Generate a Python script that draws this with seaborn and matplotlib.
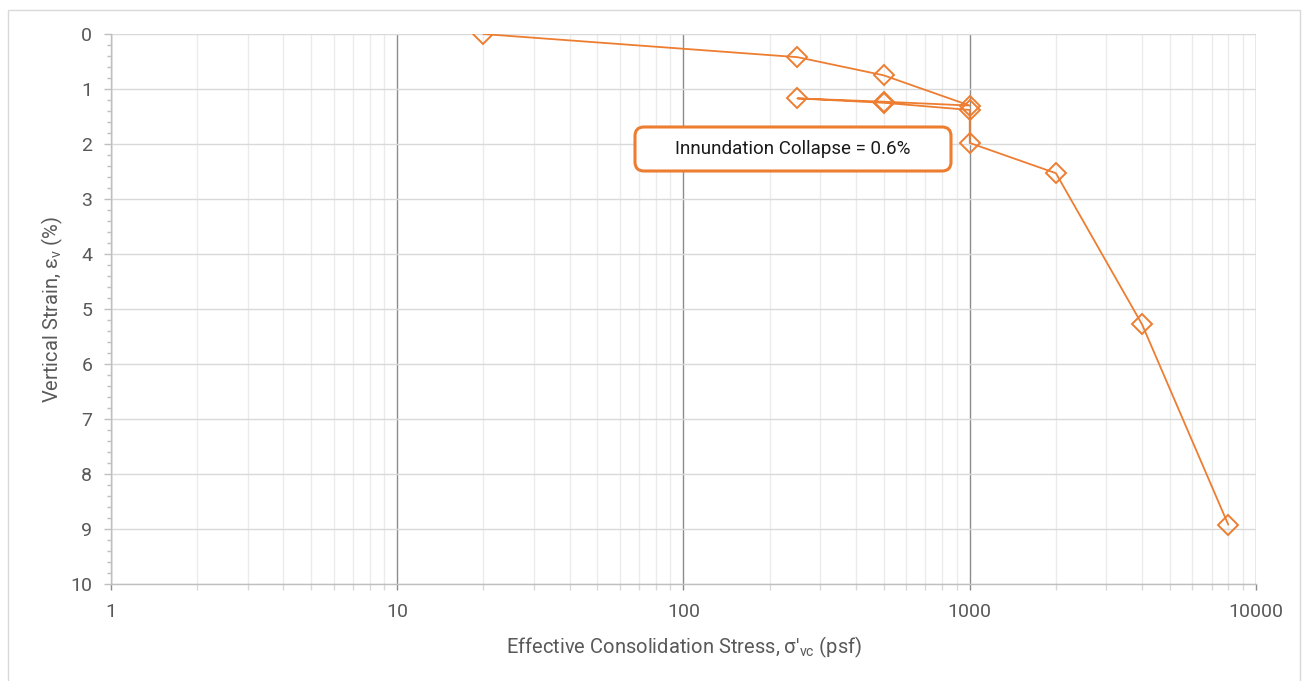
import numpy as np
import pandas as pd
import matplotlib
matplotlib.use("Agg")
import matplotlib.pyplot as plt
from matplotlib.patches import FancyBboxPatch, Rectangle
from matplotlib.ticker import (FixedLocator, LogLocator, MultipleLocator,
                               NullFormatter, FuncFormatter)
import seaborn as sns

# Consolidation test: loading, unload/reload loop, inundation at 1000 psf, final loading
stress_psf = [20, 250, 500, 1000, 500, 250, 500, 1000, 1000, 2000, 4000, 8000]
vertical_strain = [0.0, 0.42, 0.75, 1.30, 1.23, 1.17, 1.25, 1.38, 1.98, 2.53, 5.28, 8.92]
x_ticks = [1, 10, 100, 1000, 10000]
y_ticks = list(range(0, 11))
collapse_text = "Innundation Collapse = 0.6%"

ORANGE = "#ED7D31"
TEXT_GRAY = "#595959"
LIGHT_GRAY = "#BFBFBF"

sns.set_theme(style="white")
plt.rcParams["font.family"] = ["Roboto", "DejaVu Sans"]
plt.rcParams["mathtext.default"] = "regular"

df = pd.DataFrame({"stress": stress_psf, "strain": vertical_strain,
                   "step": np.arange(len(stress_psf))})

fig = plt.figure(figsize=(13.09, 6.81), dpi=100)
ax = fig.add_axes([0.0848, 0.1424, 0.8747, 0.8076])
ax.set_xscale("log")

sns.lineplot(data=df, x="stress", y="strain", sort=False, estimator=None,
             color=ORANGE, linewidth=1.3, marker="D", markersize=10.5,
             markerfacecolor="none", markeredgecolor=ORANGE,
             markeredgewidth=1.4, ax=ax, zorder=3)

ax.set_xlim(1, 10000)
ax.set_ylim(10, 0)

ax.xaxis.set_major_locator(FixedLocator(x_ticks))
ax.xaxis.set_minor_locator(LogLocator(base=10, subs=np.arange(2, 10), numticks=20))
ax.xaxis.set_major_formatter(FuncFormatter(lambda v, p: f"{int(round(v))}"))
ax.xaxis.set_minor_formatter(NullFormatter())
ax.yaxis.set_major_locator(FixedLocator(y_ticks))
ax.yaxis.set_minor_locator(MultipleLocator(0.2))

ax.set_axisbelow(True)
ax.grid(which="major", axis="x", color="#8C8C8C", linewidth=1.0)
ax.grid(which="minor", axis="x", color="#EBEBEB", linewidth=1.0)
ax.grid(which="major", axis="y", color="#D9D9D9", linewidth=1.0)

for side in ("top", "right"):
    ax.spines[side].set_visible(False)
for side in ("left", "bottom"):
    ax.spines[side].set_color(LIGHT_GRAY)
    ax.spines[side].set_linewidth(1.0)

ax.tick_params(axis="y", which="major", direction="out", length=5, width=1,
               color=LIGHT_GRAY, labelsize=14, labelcolor=TEXT_GRAY, pad=8.5, left=True)
ax.tick_params(axis="y", which="minor", direction="out", length=3, width=1,
               color=LIGHT_GRAY, left=True)
ax.tick_params(axis="x", which="major", direction="out", length=4.5, width=1,
               color="#8C8C8C", labelsize=14, labelcolor=TEXT_GRAY, pad=9.5, bottom=True)
ax.tick_params(axis="x", which="minor", direction="out", length=4.5, width=1,
               color="#D9D9D9", bottom=True)

ax.set_xlabel("Effective Consolidation Stress, σ'$_{vc}$ (psf)",
              fontsize=14.5, color=TEXT_GRAY)
ax.set_ylabel("Vertical Strain, ε$_{v}$ (%)", fontsize=14.5, color=TEXT_GRAY)
ax.xaxis.set_label_coords(0.5, (584 - 635) / 550)
ax.yaxis.set_label_coords((65 - 111) / 1145, 0.5)

# chart-area outline
fig.add_artist(Rectangle((8 / 1309, -0.1), (1300 - 8) / 1309, 1 - 10 / 681 + 0.1,
                         transform=fig.transFigure, fill=False,
                         edgecolor="#D9D9D9", linewidth=1.0, zorder=0))

# annotation callout
box = FancyBboxPatch((6.35, 5.10), 3.16, 0.44,
                     boxstyle="round,pad=0,rounding_size=0.09",
                     transform=fig.dpi_scale_trans, facecolor="white",
                     edgecolor=ORANGE, linewidth=2.2, zorder=5)
fig.add_artist(box)
fig.text(7.93 / 13.09, (681 - 149) / 681, collapse_text, ha="center", va="center",
         fontsize=13.5, color="#1A1A1A", zorder=6)

fig.savefig("out.png", dpi=100)
